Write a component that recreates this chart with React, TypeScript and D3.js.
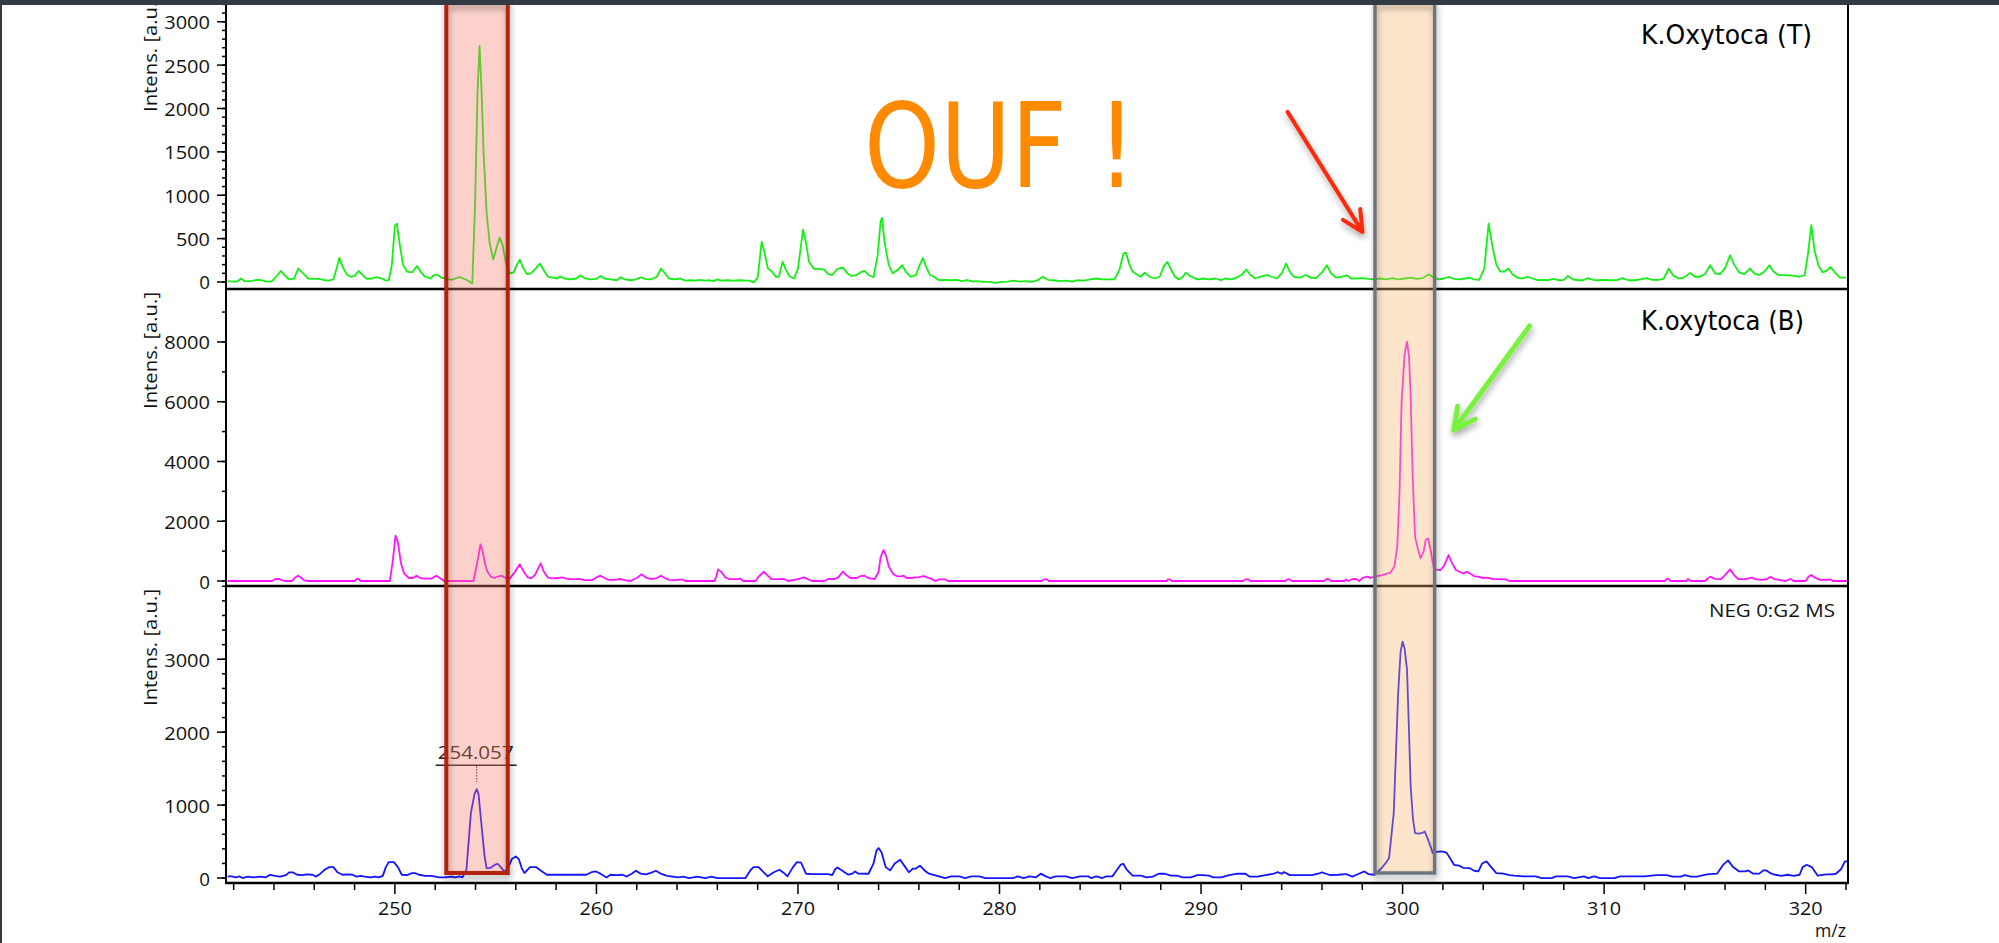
import React from 'react';
import * as d3 from 'd3';

// ---- data ----
const mzDomain: [number, number] = [241.62, 322.1];
const mzMajorTicks = [250, 260, 270, 280, 290, 300, 310, 320];
const mzMinorTicks = d3.range(242, 323, 2);

const panelTitles = ['K.Oxytoca (T)', 'K.oxytoca (B)', 'NEG 0:G2 MS'];
const panelDomains: [number, number][] = [[-81, 3343], [-167, 9772], [-68, 4004]];
const panelMajorTicks = [
  [0, 500, 1000, 1500, 2000, 2500, 3000],
  [0, 2000, 4000, 6000, 8000],
  [0, 1000, 2000, 3000],
];
const panelMinorStep = [100, 1000, 200];

// spectrum traces: [m/z, intensity]
const greenSpectrum: [number, number][] = [
  [241.7,10],[242.0,5],[242.2,8],[242.36,40],[242.55,8],[242.9,12],[243.2,25],[243.4,20],[243.6,5],[243.9,10],
  [244.1,60],[244.34,127],[244.55,70],[244.75,30],[245.0,40],[245.2,155],[245.45,100],[245.7,40],[245.95,35],[246.2,35],
  [246.45,25],[246.7,15],[246.95,30],[247.1,150],[247.24,277],[247.4,180],[247.6,90],[247.8,60],[248.0,70],[248.2,127],
  [248.4,80],[248.6,35],[248.85,40],[249.1,55],[249.3,45],[249.55,15],[249.7,20],[249.85,200],[250.0,650],[250.1,673],
  [250.25,420],[250.4,200],[250.6,120],[250.85,110],[251.1,185],[251.3,110],[251.5,60],[251.75,40],[251.95,80],[252.1,85],
  [252.3,50],[252.55,40],[252.8,25],[253.0,40],[253.2,55],[253.4,40],[253.6,20],[253.84,-18],[253.98,900],[254.1,2200],
  [254.2,2723],[254.3,2200],[254.4,1500],[254.55,800],[254.7,450],[254.88,258],[255.05,400],[255.2,512],[255.35,420],[255.5,230],
  [255.7,100],[255.9,110],[256.05,200],[256.2,258],[256.35,170],[256.55,90],[256.75,100],[257.0,160],[257.2,212],[257.4,130],
  [257.6,60],[257.85,50],[258.05,40],[258.2,65],[258.4,40],[258.7,30],[259.0,40],[259.2,75],[259.4,45],[259.7,30],
  [260.0,35],[260.2,70],[260.4,40],[260.7,30],[261.0,20],[261.2,55],[261.4,30],[261.7,20],[261.95,30],[262.2,55],
  [262.4,35],[262.7,30],[263.0,60],[263.2,155],[263.4,100],[263.6,40],[263.9,30],[264.16,40],[264.4,15],[264.7,20],
  [264.9,15],[265.1,25],[265.4,15],[265.6,20],[265.8,10],[266.0,30],[266.2,15],[266.5,20],[266.8,15],[267.1,20],
  [267.4,15],[267.6,15],[267.8,-5],[268.0,50],[268.2,462],[268.35,330],[268.5,160],[268.7,120],[268.9,60],[269.05,60],
  [269.24,231],[269.4,140],[269.6,60],[269.8,40],[270.0,150],[270.25,604],[270.4,450],[270.55,230],[270.8,150],[271.05,150],
  [271.3,143],[271.5,90],[271.7,80],[271.95,150],[272.23,166],[272.45,100],[272.65,70],[272.9,80],[273.1,110],[273.3,127],
  [273.5,80],[273.75,55],[273.95,300],[274.1,700],[274.17,738],[274.3,450],[274.5,200],[274.7,100],[274.95,140],[275.17,193],
  [275.35,120],[275.6,60],[275.85,80],[276.05,200],[276.2,277],[276.35,180],[276.55,80],[276.75,60],[277.0,20],[277.3,25],
  [277.6,20],[277.9,25],[278.1,10],[278.4,20],[278.7,5],[278.9,10],[279.2,0],[279.5,0],[279.8,-10],[280.1,0],
  [280.4,5],[280.7,15],[281.0,5],[281.3,10],[281.6,0],[281.9,20],[282.15,60],[282.4,25],[282.7,20],[283.0,10],
  [283.3,15],[283.6,5],[283.9,20],[284.2,15],[284.5,30],[284.8,40],[285.1,30],[285.4,30],[285.7,30],[285.95,140],
  [286.15,330],[286.27,339],[286.45,200],[286.6,120],[286.85,80],[287.0,60],[287.2,108],[287.45,60],[287.7,40],[287.95,60],
  [288.15,180],[288.33,231],[288.5,150],[288.7,60],[288.9,30],[289.1,60],[289.24,108],[289.45,70],[289.7,40],[289.9,30],
  [290.1,40],[290.4,30],[290.7,40],[291.0,20],[291.2,40],[291.5,30],[291.75,50],[292.0,80],[292.24,143],[292.45,80],
  [292.7,40],[292.9,60],[293.1,70],[293.3,80],[293.5,60],[293.75,40],[294.0,100],[294.22,212],[294.4,120],[294.6,60],
  [294.85,50],[295.0,60],[295.2,80],[295.45,50],[295.7,45],[296.0,110],[296.24,193],[296.45,100],[296.7,50],[296.95,60],
  [297.23,77],[297.45,40],[297.7,40],[298.0,45],[298.3,35],[298.6,30],[298.9,40],[299.2,30],[299.5,45],[299.8,30],
  [300.1,40],[300.4,50],[300.7,35],[301.0,45],[301.3,90],[301.55,50],[301.8,30],[302.05,40],[302.3,60],[302.55,35],
  [302.8,30],[303.1,40],[303.3,50],[303.55,30],[303.8,25],[304.05,150],[304.27,673],[304.45,420],[304.65,200],[304.85,120],
  [305.05,120],[305.26,155],[305.45,90],[305.7,50],[305.95,40],[306.2,60],[306.45,40],[306.7,20],[306.95,25],[307.2,20],
  [307.5,35],[307.75,20],[308.0,25],[308.2,70],[308.45,30],[308.7,20],[308.95,20],[309.2,45],[309.45,25],[309.7,20],
  [310.0,25],[310.3,20],[310.6,20],[310.9,45],[311.2,20],[311.5,20],[311.8,30],[312.1,45],[312.4,25],[312.7,25],
  [312.95,35],[313.2,155],[313.45,70],[313.7,40],[313.95,50],[314.27,105],[314.5,60],[314.75,60],[315.0,90],[315.26,193],
  [315.5,100],[315.75,90],[316.0,160],[316.25,308],[316.45,200],[316.7,110],[316.95,90],[317.24,155],[317.45,100],[317.7,80],
  [317.95,120],[318.2,193],[318.4,120],[318.65,80],[318.9,80],[319.2,77],[319.45,70],[319.7,60],[319.95,80],[320.1,300],
  [320.28,654],[320.45,350],[320.65,180],[320.85,110],[321.05,130],[321.24,173],[321.45,110],[321.7,50],[322.0,50],
];

const magentaSpectrum: [number, number][] = [
  [241.7,0],[243.9,0],[244.05,60],[244.24,67],[244.4,30],[244.55,0],[244.9,0],[245.05,120],[245.2,178],[245.35,110],
  [245.5,20],[245.7,0],[248.0,0],[248.1,60],[248.2,67],[248.3,0],[249.75,0],[249.9,700],[250.03,1517],[250.15,1300],
  [250.3,600],[250.45,257],[250.7,100],[250.9,100],[251.07,178],[251.25,100],[251.5,80],[251.8,80],[252.06,178],[252.25,90],
  [252.45,0],[253.9,0],[254.05,500],[254.25,1227],[254.35,1000],[254.5,500],[254.6,300],[254.76,145],[254.95,100],[255.1,150],
  [255.3,178],[255.5,100],[255.7,80],[255.95,300],[256.2,558],[256.4,300],[256.6,120],[256.76,90],[256.95,200],[257.23,592],
  [257.4,300],[257.6,111],[257.8,90],[258.05,100],[258.3,123],[258.5,80],[258.7,60],[259.0,60],[259.2,67],[259.4,30],
  [259.6,30],[259.8,30],[260.0,120],[260.2,178],[260.4,100],[260.6,40],[260.9,40],[261.2,67],[261.4,30],[261.7,0],
  [262.0,100],[262.24,223],[262.45,120],[262.7,60],[263.0,100],[263.2,178],[263.4,100],[263.6,40],[264.0,30],[264.27,55],
  [264.4,0],[265.85,0],[265.95,150],[266.03,390],[266.2,300],[266.4,120],[266.6,60],[267.0,60],[267.15,78],[267.3,0],
  [267.9,0],[268.05,150],[268.3,312],[268.5,180],[268.7,60],[269.0,60],[269.3,67],[269.5,0],[270.0,60],[270.3,123],
  [270.5,60],[270.7,0],[271.3,0],[271.5,67],[271.8,67],[272.0,120],[272.23,312],[272.4,200],[272.6,100],[272.9,100],
  [273.1,160],[273.29,178],[273.5,100],[273.8,60],[274.0,300],[274.1,800],[274.24,1037],[274.35,900],[274.5,500],[274.7,250],
  [274.9,160],[275.05,150],[275.24,178],[275.4,100],[275.65,100],[275.8,120],[276.0,130],[276.24,167],[276.4,120],[276.6,80],
  [276.83,0],[277.0,55],[277.3,55],[277.45,0],[282.1,0],[282.2,55],[282.35,55],[282.45,0],[288.3,0],[288.36,55],
  [288.45,55],[288.55,0],[292.1,0],[292.2,55],[292.35,55],[292.45,0],[294.2,0],[294.27,55],[294.4,55],[294.5,0],
  [296.1,0],[296.24,67],[296.35,55],[296.45,0],[297.1,0],[297.2,55],[297.3,0],[297.5,60],[297.7,67],[297.85,0],
  [298.0,100],[298.24,145],[298.4,100],[298.6,150],[299.0,200],[299.4,280],[299.6,500],[299.74,1200],[299.85,3000],[299.95,6000],
  [300.1,7600],[300.22,8009],[300.32,7500],[300.4,6168],[300.5,3500],[300.62,1483],[300.75,1100],[300.89,760],[301.05,1000],[301.15,1380],
  [301.27,1428],[301.4,1000],[301.55,424],[301.7,380],[301.88,368],[302.05,500],[302.28,870],[302.45,600],[302.65,368],[302.85,300],
  [303.0,250],[303.2,312],[303.35,250],[303.54,167],[303.8,140],[304.0,100],[304.2,111],[304.5,60],[304.8,60],[305.1,55],
  [305.3,0],[313.0,0],[313.15,90],[313.3,0],[314.1,0],[314.16,67],[314.3,0],[315.0,0],[315.26,145],[315.5,70],
  [315.8,60],[316.0,200],[316.25,390],[316.45,200],[316.65,60],[317.0,60],[317.33,111],[317.5,60],[317.8,40],[318.05,60],
  [318.26,145],[318.45,60],[318.7,40],[319.0,0],[319.24,67],[319.4,0],[320.0,0],[320.15,150],[320.28,200],[320.45,120],
  [320.7,40],[321.0,40],[321.24,55],[321.35,0],[322.1,0],
];

const blueSpectrum: [number, number][] = [
  [241.7,22],[241.9,22],[242.1,10],[242.3,22],[242.45,0],[242.7,20],[243.0,8],[243.3,20],[243.6,10],[243.8,45],
  [244.05,30],[244.3,20],[244.6,40],[244.75,77],[244.95,77],[245.15,45],[245.4,40],[245.6,50],[245.9,45],[246.1,20],
  [246.3,60],[246.55,120],[246.75,150],[246.95,150],[247.15,80],[247.4,45],[247.7,50],[247.9,45],[248.1,20],[248.3,30],
  [248.5,20],[248.8,8],[249.0,20],[249.2,8],[249.4,30],[249.55,150],[249.7,219],[249.95,219],[250.15,150],[250.34,45],
  [250.6,40],[250.85,68],[251.0,68],[251.2,45],[251.5,30],[251.8,30],[252.0,20],[252.2,8],[252.5,8],[252.8,20],
  [253.0,8],[253.2,22],[253.35,10],[253.55,113],[253.77,890],[253.95,1150],[254.06,1219],[254.15,1150],[254.32,662],[254.45,300],
  [254.55,137],[254.75,140],[254.95,180],[255.1,196],[255.25,150],[255.43,90],[255.6,130],[255.8,260],[256.0,297],[256.15,260],
  [256.3,130],[256.43,68],[256.7,150],[257.0,150],[257.25,100],[257.54,45],[258.0,45],[258.5,45],[259.0,45],[259.5,45],
  [259.75,80],[259.98,90],[260.2,60],[260.5,8],[260.7,45],[261.0,40],[261.3,45],[261.5,20],[261.75,60],[261.96,100],
  [262.2,60],[262.45,50],[262.7,70],[262.95,100],[263.2,60],[263.5,30],[263.8,20],[264.07,8],[264.3,20],[264.6,0],
  [265.0,20],[265.4,0],[265.7,20],[266.0,0],[266.4,0],[267.0,0],[267.4,0],[267.65,110],[267.8,150],[268.05,150],
  [268.25,90],[268.5,23],[268.8,80],[269.08,114],[269.3,70],[269.48,23],[269.75,150],[269.95,219],[270.15,210],[270.4,59],
  [270.7,55],[271.0,55],[271.5,55],[271.7,40],[271.85,120],[271.96,146],[272.2,100],[272.5,46],[272.7,60],[272.83,91],
  [273.0,60],[273.5,59],[273.75,200],[273.9,380],[274.0,411],[274.15,350],[274.35,150],[274.57,105],[274.8,200],[275.07,251],
  [275.3,160],[275.5,78],[275.7,130],[275.85,130],[276.05,169],[276.3,100],[276.5,59],[277.0,23],[277.3,0],[277.6,23],
  [278.0,23],[278.3,0],[278.6,23],[279.0,23],[279.3,0],[280.0,0],[280.7,0],[280.9,23],[281.2,0],[281.5,23],
  [281.8,10],[282.05,60],[282.3,23],[282.5,0],[282.8,23],[283.3,23],[283.6,0],[284.0,23],[284.4,23],[284.55,0],
  [284.8,23],[285.1,0],[285.3,23],[285.6,23],[285.85,120],[286.0,180],[286.14,196],[286.3,120],[286.6,32],[287.0,32],
  [287.3,10],[287.6,20],[287.9,59],[288.2,59],[288.5,32],[288.8,32],[289.1,10],[289.5,10],[289.8,40],[290.1,40],
  [290.4,32],[290.6,10],[291.0,10],[291.4,40],[291.8,59],[292.2,59],[292.4,20],[292.8,20],[293.2,40],[293.6,59],
  [293.8,80],[294.0,59],[294.12,82],[294.4,40],[295.0,40],[295.5,40],[295.8,59],[296.0,78],[296.2,59],[296.4,40],
  [296.8,45],[297.2,55],[297.5,20],[297.8,55],[298.1,91],[298.3,55],[298.6,45],[298.9,120],[299.15,200],[299.33,274],
  [299.56,890],[299.78,2534],[299.9,3100],[300.0,3241],[300.1,3150],[300.22,2853],[300.32,2000],[300.4,1255],[300.52,800],[300.62,616],
  [300.8,610],[301.0,620],[301.1,639],[301.3,500],[301.5,342],[301.7,360],[301.88,365],[302.05,360],[302.2,342],[302.4,250],
  [302.55,182],[302.8,170],[303.0,140],[303.32,137],[303.55,100],[303.76,91],[303.95,200],[304.16,228],[304.4,150],[304.65,68],
  [305.0,60],[305.3,40],[305.53,32],[306.0,22],[306.6,22],[306.9,0],[307.4,0],[307.6,22],[308.2,22],[308.5,0],
  [309.0,22],[309.2,0],[309.5,22],[309.8,0],[310.5,0],[310.8,22],[311.5,22],[312.0,22],[312.6,40],[313.1,40],
  [313.4,20],[313.8,20],[314.0,40],[314.3,20],[314.6,20],[315.1,50],[315.6,60],[315.9,180],[316.15,242],[316.4,150],
  [316.7,91],[317.0,91],[317.15,105],[317.4,60],[317.7,60],[317.9,105],[318.05,105],[318.3,60],[318.5,45],[318.8,30],
  [319.1,45],[319.4,30],[319.7,45],[319.85,150],[320.05,182],[320.3,150],[320.6,32],[321.0,50],[321.3,50],[321.5,59],
  [321.75,120],[321.95,228],[322.1,228],
];

const spectra = [greenSpectrum, magentaSpectrum, blueSpectrum];
const spectrumColors = ['#14ef14', '#ff14ff', '#1414ff'];

// highlighted m/z windows
const redWindow: [number, number] = [252.55, 255.6];
const orangeWindow: [number, number] = [298.63, 301.59];

const peakLabel = { mz: 254.057, intensity: 1219, text: '254.057' };

// layout
const W = 1999;
const H = 943;
const plotLeft = 226;
const plotRight = 1848;
const panelTops = [-8, 289, 586];
const panelHeight = 297;

const arrowHead = (x0: number, y0: number, x1: number, y1: number, len: number, ang: number) => {
  const a = Math.atan2(y0 - y1, x0 - x1);
  const p1 = [x1 + len * Math.cos(a + ang), y1 + len * Math.sin(a + ang)];
  const p2 = [x1 + len * Math.cos(a - ang), y1 + len * Math.sin(a - ang)];
  return `M${x0},${y0}L${x1},${y1}M${p1[0]},${p1[1]}L${x1},${y1}L${p2[0]},${p2[1]}`;
};

const tickFont = "'Open Sans', 'DejaVu Sans', sans-serif";
const titleFont = "'DejaVu Sans', sans-serif";

export default function App() {
  const x = d3.scaleLinear().domain(mzDomain).range([plotLeft, plotRight]);
  const ys = panelDomains.map((dom, i) =>
    d3.scaleLinear().domain(dom).range([panelTops[i] + panelHeight, panelTops[i]])
  );

  const boxTop = 3;
  const boxBottom = 873;

  // annotation arrows anchored in data units
  const redStart = [x(294.29), ys[0](1961)];
  const redTip = [x(298.01), ys[0](577)];
  const greenStart = [x(306.3), ys[1](8534)];
  const greenTip = [x(302.54), ys[1](5053)];

  const peakX = x(peakLabel.mz);
  const peakY = ys[2](peakLabel.intensity);

  return (
    <svg
      width={W}
      height={H}
      viewBox={`0 0 ${W} ${H}`}
      style={{ position: 'absolute', left: 0, top: 0, background: '#fff' }}
    >
      <defs>
        {panelTops.map((t, i) => (
          <clipPath id={`clip${i}`} key={i}>
            <rect x={plotLeft} y={t} width={plotRight - plotLeft} height={panelHeight} />
          </clipPath>
        ))}
        <filter id="shadow" x="-30%" y="-10%" width="160%" height="120%">
          <feDropShadow dx="1" dy="4" stdDeviation="3" floodColor="#000" floodOpacity="0.35" />
        </filter>
      </defs>

      <rect width={W} height={H} fill="#fff" />

      {/* panels */}
      {panelTops.map((top, i) => {
        const y = ys[i];
        const bottom = top + panelHeight;
        const minor = d3.range(0, panelDomains[i][1], panelMinorStep[i]);
        const line = d3.line<[number, number]>().x(d => x(d[0])).y(d => y(d[1]));
        return (
          <g key={i}>
            {/* y ticks */}
            {minor.map(v => (
              <line key={'m' + v} x1={plotLeft - 4} x2={plotLeft} y1={y(v)} y2={y(v)} stroke="#000" strokeWidth={1.5} />
            ))}
            {panelMajorTicks[i].map(v => (
              <g key={'M' + v}>
                <line x1={plotLeft - 9} x2={plotLeft} y1={y(v)} y2={y(v)} stroke="#000" strokeWidth={1.5} />
                <text
                  x={210}
                  y={y(v)}
                  textAnchor="end"
                  dominantBaseline="central"
                  fontFamily={tickFont}
                  fontSize={18.5}
                  textLength={String(v).length * 11.7 - 1}
                  lengthAdjust="spacingAndGlyphs"
                  fill="#111"
                >
                  {v}
                </text>
              </g>
            ))}
            <text
              transform={`translate(150,${top + 3}) rotate(-90)`}
              textAnchor="end"
              dominantBaseline="central"
              fontFamily={tickFont}
              fontSize={18}
              textLength={117}
              lengthAdjust="spacingAndGlyphs"
              fill="#111"
            >
              Intens. [a.u.]
            </text>

            {/* trace */}
            <path d={line(spectra[i]) || ''} fill="none" stroke={spectrumColors[i]} strokeWidth={1.8} clipPath={`url(#clip${i})`} strokeLinejoin="round" />

            {/* panel bottom line */}
            <line x1={plotLeft} x2={plotRight} y1={bottom} y2={bottom} stroke="#000" strokeWidth={2.5} />
          </g>
        );
      })}

      {/* frame */}
      <line x1={plotLeft} x2={plotLeft} y1={0} y2={panelTops[2] + panelHeight + 1} stroke="#000" strokeWidth={2} />
      <line x1={plotRight} x2={plotRight} y1={0} y2={panelTops[2] + panelHeight + 1} stroke="#000" strokeWidth={2} />

      {/* x axis */}
      {mzMinorTicks.map(v => (
        <line key={'xm' + v} x1={x(v)} x2={x(v)} y1={884} y2={mzMajorTicks.includes(v) ? 894 : 890} stroke="#000" strokeWidth={1.5} />
      ))}
      {mzMajorTicks.map(v => (
        <text
          key={'xl' + v}
          x={x(v)}
          y={915}
          textAnchor="middle"
          fontFamily={tickFont}
          fontSize={17.5}
          textLength={34}
          lengthAdjust="spacingAndGlyphs"
          fill="#111"
        >
          {v}
        </text>
      ))}
      <text x={1846} y={937} textAnchor="end" fontFamily={tickFont} fontSize={18} textLength={31} lengthAdjust="spacingAndGlyphs" fill="#111">m/z</text>

      {/* panel titles */}
      <text x={1641} y={44} fontFamily={titleFont} fontSize={26} textLength={171} lengthAdjust="spacingAndGlyphs" fill="#000">
        {panelTitles[0]}
      </text>
      <text x={1641} y={330} fontFamily={titleFont} fontSize={26} textLength={163} lengthAdjust="spacingAndGlyphs" fill="#000">
        {panelTitles[1]}
      </text>
      <text x={1709} y={617} fontFamily={tickFont} fontSize={19} textLength={126} lengthAdjust="spacingAndGlyphs" fill="#111">
        {panelTitles[2]}
      </text>

      {/* peak label */}
      <text x={peakX - 1} y={peakY - 30} textAnchor="middle" fontFamily={tickFont} fontSize={18} textLength={76} lengthAdjust="spacingAndGlyphs" fill="#222">
        {peakLabel.text}
      </text>
      <line x1={peakX - 41} x2={peakX + 40} y1={peakY - 24} y2={peakY - 24} stroke="#222" strokeWidth={1.5} />
      <line x1={peakX} x2={peakX} y1={peakY - 23} y2={peakY - 7} stroke="#222" strokeWidth={1} strokeDasharray="1.5,1.5" />

      {/* highlighted windows */}
      <rect x={x(redWindow[0])} y={boxTop} width={x(redWindow[1]) - x(redWindow[0])} height={boxBottom - boxTop} fill="#f97a6a" fillOpacity={0.35} />
      <rect x={x(redWindow[0])} y={boxTop} width={x(redWindow[1]) - x(redWindow[0])} height={boxBottom - boxTop} fill="none" stroke="#b3230f" strokeWidth={4} filter="url(#shadow)" />
      <rect x={x(orangeWindow[0])} y={boxTop} width={x(orangeWindow[1]) - x(orangeWindow[0])} height={boxBottom - boxTop} fill="#f5b46a" fillOpacity={0.35} />
      <rect x={x(orangeWindow[0])} y={boxTop} width={x(orangeWindow[1]) - x(orangeWindow[0])} height={boxBottom - boxTop} fill="none" stroke="#6e757b" strokeWidth={3.5} filter="url(#shadow)" />

      {/* arrows */}
      <path d={arrowHead(redStart[0], redStart[1], redTip[0], redTip[1], 23, 0.46)} fill="none" stroke="#ff2a0a" strokeWidth={4} strokeLinecap="round" strokeLinejoin="round" filter="url(#shadow)" />
      <path d={arrowHead(greenStart[0], greenStart[1], greenTip[0], greenTip[1], 24, 0.47)} fill="none" stroke="#78f23c" strokeWidth={5} strokeLinecap="round" strokeLinejoin="round" filter="url(#shadow)" />

      {/* OUF ! */}
      <text x={x(273.28)} y={ys[0](1095)} fontFamily={titleFont} fontSize={118} textLength={272} lengthAdjust="spacingAndGlyphs" fill="#ff8a00">
        OUF !
      </text>

      {/* window chrome */}
      <rect x={0} y={0} width={W} height={5} fill="#323a43" />
      <rect x={0} y={0} width={2} height={H} fill="#323a43" />
    </svg>
  );
}
